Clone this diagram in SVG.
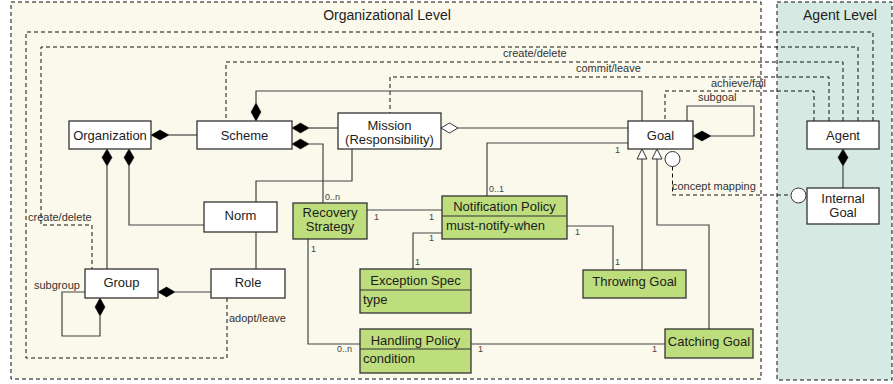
<svg xmlns="http://www.w3.org/2000/svg" width="893" height="384" viewBox="0 0 893 384">
<style>
.panel{stroke:#111;stroke-width:1;stroke-dasharray:4,3}
.org{fill:#FBF9EC}
.agt{fill:#D6EAE3}
.title{font-family:"Liberation Sans",Arial,sans-serif;font-size:14px;fill:#222;text-anchor:middle}
.box{fill:#fff;stroke:#333;stroke-width:1.3}
.gbox{fill:#BEDD7C;stroke:#333;stroke-width:1.3}
.t{font-family:"Liberation Sans",Arial,sans-serif;font-size:13px;fill:#1c1c1c;text-anchor:middle}
.tl{font-family:"Liberation Sans",Arial,sans-serif;font-size:13px;fill:#1c1c1c}
.s{fill:none;stroke:#444;stroke-width:1.2}
.d{fill:none;stroke:#111;stroke-width:1;stroke-dasharray:4,3}
.fd{fill:#000;stroke:#000;stroke-width:0.5}
.hd{fill:#fff;stroke:#333;stroke-width:1}
.lbl{font-family:"Liberation Sans",Arial,sans-serif;font-size:11px;fill:#333}
.m{font-family:"Liberation Sans",Arial,sans-serif;font-size:9px;fill:#444}
</style>
<g id="panels">
<rect class="panel org" x="11" y="2" width="750" height="377"/>
<text class="title" x="387" y="20">Organizational Level</text>
<rect class="panel agt" x="777" y="2" width="115" height="378"/>
<text class="title" x="840" y="20">Agent Level</text>
</g>
<g id="connectors">
<!-- dashed -->
<path class="d" d="M873,121 V32 H26 V358 H227 V298"/>
<path class="d" d="M858,121 V47 H41 V225 H92 V269"/>
<path class="d" d="M843,121 V62 H226 V121"/>
<path class="d" d="M829,121 V77 H390 V113"/>
<path class="d" d="M814,121 V91 H665 V121"/>
<path class="d" d="M672.5,166.5 V195 H791"/>
<text class="lbl" x="229" y="322">adopt/leave</text>
<text class="lbl" x="28" y="221">create/delete</text>
<text class="lbl" x="503" y="57">create/delete</text>
<text class="lbl" x="576" y="72">commit/leave</text>
<text class="lbl" x="711" y="87">achieve/fail</text>
<text class="lbl" x="672" y="190">concept mapping</text>
<!-- solid -->
<path class="s" d="M169,135 H197"/>
<polygon class="fd" points="151,135 160,130 169,135 160,140"/>
<path class="s" d="M256,103 V91 H642 V121"/>
<polygon class="fd" points="256,121 261,112 256,103 251,112"/>
<path class="s" d="M309,128 H338"/>
<polygon class="fd" points="292,128 300.5,123 309,128 300.5,133"/>
<path class="s" d="M309,144 H323 V203"/>
<polygon class="fd" points="292,144 300.5,139 309,144 300.5,149"/>
<text class="m" x="325" y="200">0..n</text>
<path class="s" d="M458,128 H628"/>
<polygon class="hd" points="441,128 449.5,123 458,128 449.5,133"/>
<path class="s" d="M352,149 V181 H256 V202"/>
<path class="s" d="M256,232 V269"/>
<path class="s" d="M107,166 V269"/>
<polygon class="fd" points="107,149 112,157.5 107,166 102,157.5"/>
<path class="s" d="M129,166 V225 H204"/>
<polygon class="fd" points="129,149 134,157.5 129,166 124,157.5"/>
<path class="s" d="M175,292 H211"/>
<polygon class="fd" points="158,292 166.5,287 175,292 166.5,297"/>
<path class="s" d="M100,316 V336 H62 V292 H85"/>
<polygon class="fd" points="100,298 105,307 100,316 95,307"/>
<text class="lbl" x="34" y="289">subgroup</text>
<path class="s" d="M711,136 H754 V106 H687 V121"/>
<polygon class="fd" points="693,136 702,131 711,136 702,141"/>
<text class="lbl" x="698" y="101">subgoal</text>
<path class="s" d="M628,143 H487 V196"/>
<text class="m" x="615" y="153">1</text>
<text class="m" x="489" y="192">0..1</text>
<path class="s" d="M642,159 V270"/>
<polygon class="hd" points="642,149 647,159 637,159"/>
<path class="s" d="M657,159 V225 H709 V329"/>
<polygon class="hd" points="657,149 662,159 652,159"/>
<circle class="hd" cx="672.5" cy="159" r="7.5"/>
<circle class="hd" cx="798.5" cy="195.5" r="7.5"/>
<path class="s" d="M367,210 H442"/>
<text class="m" x="374" y="220">1</text>
<text class="m" x="429" y="220">1</text>
<path class="s" d="M442,233 H413 V269"/>
<text class="m" x="429" y="241">1</text>
<text class="m" x="415" y="265">1</text>
<path class="s" d="M567,226 H613 V270"/>
<text class="m" x="575" y="235">1</text>
<text class="m" x="615" y="265">1</text>
<path class="s" d="M308,239 V344 H360"/>
<text class="m" x="311" y="252">1</text>
<text class="m" x="337" y="352">0..n</text>
<path class="s" d="M471,344 H665"/>
<text class="m" x="478" y="352">1</text>
<text class="m" x="652" y="352">1</text>
<path class="s" d="M843,166 V188"/>
<polygon class="fd" points="843,149 848,157.5 843,166 838,157.5"/>
</g>
<g id="organization"><rect class="box" x="69" y="121" width="82" height="28"/><text class="t" x="110" y="139.5">Organization</text></g>
<g id="scheme"><rect class="box" x="197" y="121" width="95" height="28"/><text class="t" x="244.5" y="139.5">Scheme</text></g>
<g id="mission"><rect class="box" x="338" y="113" width="103" height="36"/><text class="t" x="389.5" y="129.5">Mission</text><text class="t" x="389.5" y="143.5">(Responsibility)</text></g>
<g id="goal"><rect class="box" x="628" y="121" width="65" height="28"/><text class="t" x="660.5" y="139.5">Goal</text></g>
<g id="agent"><rect class="box" x="807" y="121" width="72" height="28"/><text class="t" x="843" y="139.5">Agent</text></g>
<g id="internal-goal"><rect class="box" x="807" y="188" width="72" height="36"/><text class="t" x="843" y="203">Internal</text><text class="t" x="843" y="217">Goal</text></g>
<g id="norm"><rect class="box" x="204" y="202" width="73" height="30"/><text class="t" x="240.5" y="219.5">Norm</text></g>
<g id="group"><rect class="box" x="85" y="269" width="73" height="29"/><text class="t" x="121.5" y="286.5">Group</text></g>
<g id="role"><rect class="box" x="211" y="269" width="74" height="29"/><text class="t" x="248" y="286.5">Role</text></g>
<g id="recovery-strategy"><rect class="gbox" x="293" y="203" width="74" height="36"/><text class="t" x="330" y="217">Recovery</text><text class="t" x="330" y="230.5">Strategy</text></g>
<g id="notification-policy"><rect class="gbox" x="442" y="196" width="125" height="43"/><line class="s" x1="442" y1="216" x2="567" y2="216" style="stroke:#333"/><text class="t" x="504.5" y="210.5">Notification Policy</text><text class="tl" x="446" y="230">must-notify-when</text></g>
<g id="exception-spec"><rect class="gbox" x="360" y="269" width="111" height="44"/><line class="s" x1="360" y1="290" x2="471" y2="290" style="stroke:#333"/><text class="t" x="415.5" y="284.5">Exception Spec</text><text class="tl" x="363" y="304">type</text></g>
<g id="handling-policy"><rect class="gbox" x="360" y="329" width="111" height="44"/><line class="s" x1="360" y1="349" x2="471" y2="349" style="stroke:#333"/><text class="t" x="415.5" y="344.5">Handling Policy</text><text class="tl" x="363" y="363">condition</text></g>
<g id="throwing-goal"><rect class="gbox" x="583" y="270" width="103" height="28"/><text class="t" x="634.5" y="285.5">Throwing Goal</text></g>
<g id="catching-goal"><rect class="gbox" x="665" y="329" width="88" height="29"/><text class="t" x="709" y="345.5">Catching Goal</text></g>
</svg>
